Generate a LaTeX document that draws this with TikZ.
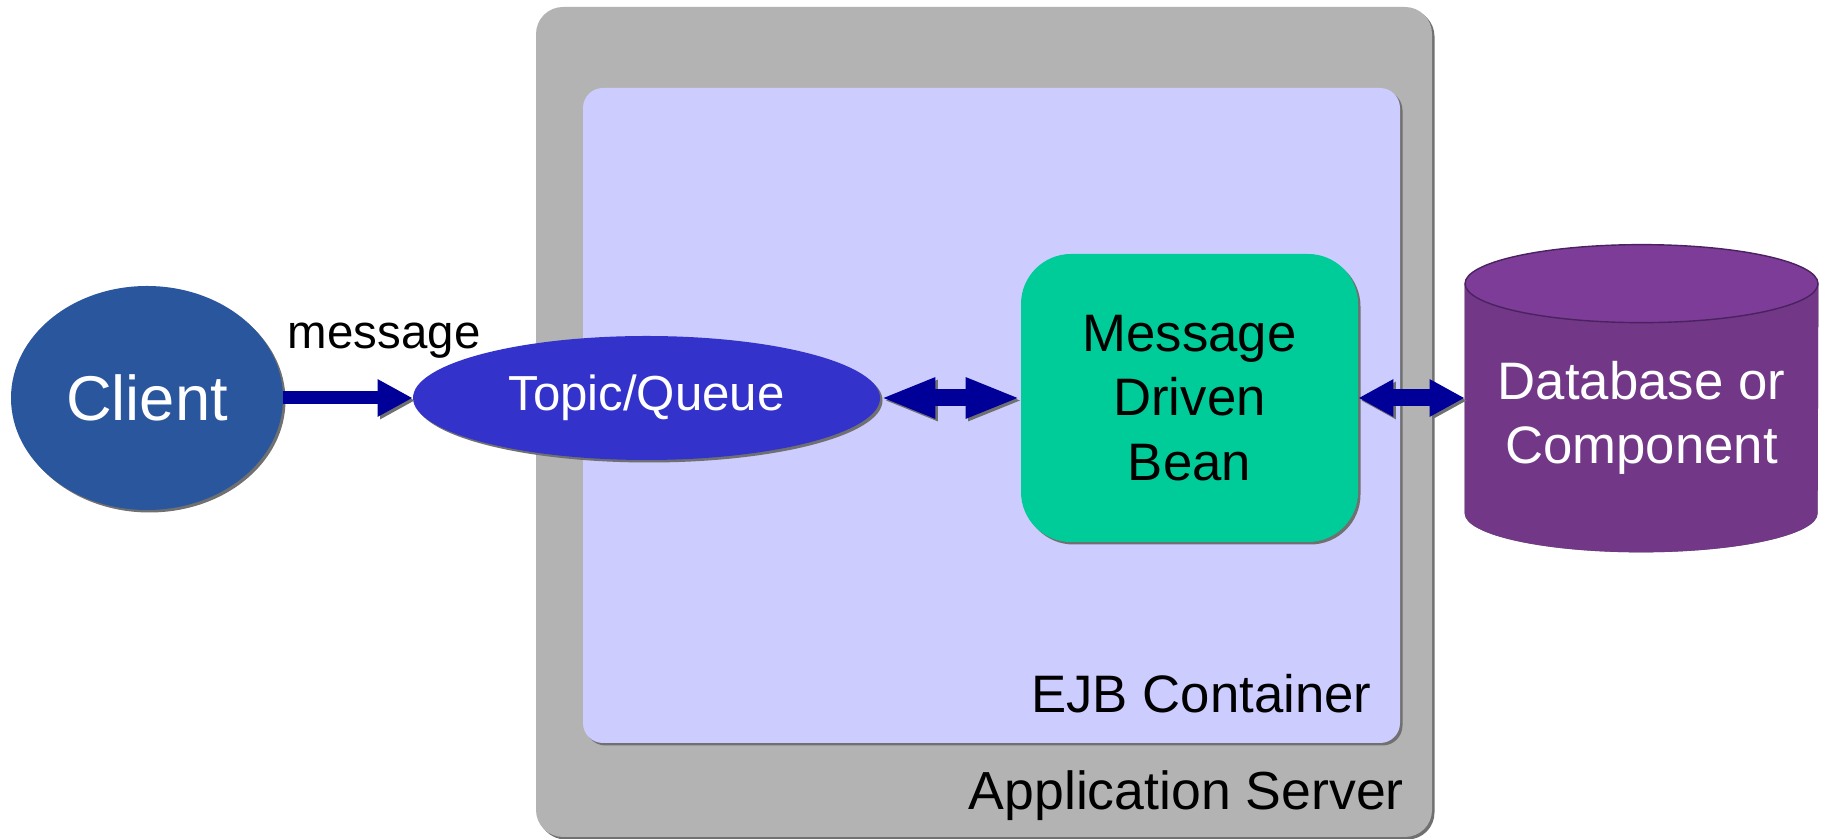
\documentclass[tikz,border=0pt]{standalone}
\usepackage{fontspec}
\setmainfont{Liberation Sans}
\usetikzlibrary{positioning, arrows.meta, shadows, backgrounds, shapes.geometric}
\definecolor{servergray}{HTML}{B3B3B3}
\definecolor{ejblilac}{HTML}{CCCCFF}
\definecolor{clientblue}{HTML}{2A569E}
\definecolor{queueblue}{HTML}{3333CC}
\definecolor{beangreen}{HTML}{00CC99}
\definecolor{dbtop}{HTML}{7D3C98}
\definecolor{dbside}{HTML}{733788}
\definecolor{dbedge}{HTML}{4A2260}
\definecolor{arrowblue}{HTML}{000099}
\definecolor{shadowgray}{HTML}{707070}

\begin{document}
\begin{tikzpicture}[
    font=\fontsize{30}{36.5}\selectfont,
    softshadow/.style={drop shadow={shadow xshift=0.05cm, shadow yshift=-0.05cm, fill=shadowgray, opacity=1}},
    serverbox/.style={rectangle, rounded corners=0.54cm, fill=servergray, softshadow, minimum width=17.92cm, minimum height=16.6cm},
    ejbbox/.style={rectangle, rounded corners=0.4cm, fill=ejblilac, softshadow, minimum width=16.34cm, minimum height=13.1cm},
    oval/.style={ellipse, inner sep=0pt, softshadow, text=white},
    bean/.style={rectangle, rounded corners=1cm, fill=beangreen, softshadow, minimum width=6.74cm, minimum height=5.76cm, align=center},
    store/.style={rectangle, inner sep=0pt, minimum width=7.06cm, minimum height=5.36cm, align=center, text=white},
    caption/.style={anchor=base east},
    blockarrow/.style={draw=arrowblue, preaction={draw=shadowgray, transform canvas={shift={(0.05,-0.05)}}}},
    sendarrow/.style={blockarrow, line width=0.26cm, -{Triangle[length=0.7cm, width=0.7cm]}},
    linkarrow/.style={blockarrow, line width=0.34cm, {Triangle[length=1.1cm, width=0.74cm]}-{Triangle[length=1.1cm, width=0.74cm]}},
    dbarrow/.style={blockarrow, line width=0.34cm, {Triangle[length=0.7cm, width=0.7cm]}-{Triangle[length=0.7cm, width=0.7cm]}}
]
\useasboundingbox (0,0) rectangle (36.44,16.78);

% ==================== CONTAINERS ====================
\node[serverbox] (server) at (19.68, 8.34) {};
\node[ejbbox] (ejb) at (19.83, 8.47) {};
\node[caption, font=\fontsize{30.5}{36.5}\selectfont] (serverlabel) at (28.2, 0.58) {Application Server};
\node[caption] (ejblabel) at (27.55, 2.52) {EJB Container};

% ==================== COMPONENTS ====================
\node[oval, fill=clientblue, minimum width=5.44cm, minimum height=4.48cm, font=\fontsize{36}{43}\selectfont] (client) at (2.94, 8.82) {Client};
\node[oval, fill=queueblue, minimum width=9.34cm, minimum height=2.48cm, font=\fontsize{28}{33}\selectfont] (queue) at (12.93, 8.82) {Topic/Queue};
\node[bean] (mdb) at (23.79, 8.82) {Message\\Driven\\Bean};
\node[store] (db) at (32.83, 8.42) {Database or\\Component};

% cylinder drawn behind the db text
\begin{scope}[on background layer]
  \fill[shadowgray, shift={(0.05,-0.05)}] (db.north west) -- ([yshift=0.78cm]db.south west)
      arc[start angle=180, end angle=360, x radius=3.53cm, y radius=0.78cm] -- (db.north east) -- cycle;
  \fill[dbside] (db.north west) -- ([yshift=0.78cm]db.south west)
      arc[start angle=180, end angle=360, x radius=3.53cm, y radius=0.78cm] -- (db.north east) -- cycle;
  \filldraw[fill=dbtop, draw=dbedge, thick] (db.north) ellipse[x radius=3.53cm, y radius=0.78cm];
\end{scope}

% ==================== ARROWS ====================
\draw[sendarrow] (client.east) -- (queue.west) node[pos=0.78, above=0.55cm, font=\fontsize{27}{32}\selectfont] (msg) {message};
\draw[linkarrow] (queue.east) -- (mdb.west);
\draw[dbarrow] (mdb.east) -- (mdb.east -| db.west);

\end{tikzpicture}
\end{document}
